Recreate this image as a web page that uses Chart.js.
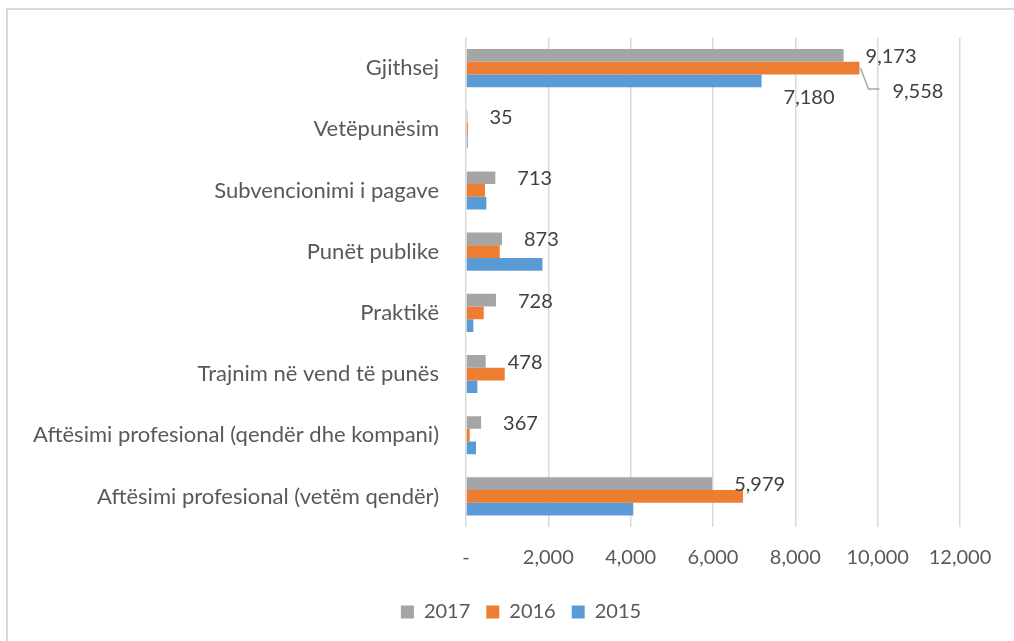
<!DOCTYPE html>
<html>
<head>
<meta charset="utf-8">
<script src="https://cdn.jsdelivr.net/npm/chart.js@4"></script>
<style>
  html, body { margin: 0; padding: 0; background: #fff; overflow: hidden; }
  #frame { position: absolute; left: 6px; top: 8px; width: 1100px; height: 700px;
           border-left: 2px solid #d9d9d9; border-top: 2px solid #d9d9d9; }
  #myChart { position: absolute; left: 0; top: 0; }
</style>
</head>
<body>
<div id="frame"></div>
<canvas id="myChart" width="1014" height="641"></canvas>
<script>
var categories = [
    "Gjithsej",
    "Vetëpunësim",
    "Subvencionimi i pagave",
    "Punët publike",
    "Praktikë",
    "Trajnim në vend të punës",
    "Aftësimi profesional (qendër dhe kompani)",
    "Aftësimi profesional (vetëm qendër)"
];
var values2017 = [9173, 35, 713, 873, 728, 478, 367, 5979];
var values2016 = [9558, 45, 460, 820, 430, 940, 90, 6730];
var values2015 = [7180, 40, 495, 1857, 178, 276, 243, 4063];
var xTicks = [0, 2000, 4000, 6000, 8000, 10000, 12000];

var FONT = "Lato, 'Open Sans', sans-serif";

// labels: every 2017 bar, plus the 2016 and 2015 bars of "Gjithsej"
var dataLabels = {
    id: 'dataLabels',
    afterDatasetsDraw: function (chart) {
        var c = chart.ctx;
        c.save();
        c.font = "20px " + FONT;
        c.fillStyle = "#404040";
        c.textAlign = "left";
        c.textBaseline = "middle";
        var meta0 = chart.getDatasetMeta(0);
        meta0.data.forEach(function (bar, i) {
            c.fillText(values2017[i].toLocaleString('en-US'), bar.x + 22, bar.y + 1);
        });
        // 2016 total, pushed down with a leader line
        var b16 = chart.getDatasetMeta(1).data[0];
        c.strokeStyle = "#a6a6a6";
        c.lineWidth = 1.5;
        c.beginPath();
        c.moveTo(b16.x + 1, b16.y);
        c.lineTo(b16.x + 9, b16.y + 21);
        c.lineTo(b16.x + 20, b16.y + 21);
        c.stroke();
        c.fillText(values2016[0].toLocaleString('en-US'), b16.x + 33, b16.y + 23);
        // 2015 total
        var b15 = chart.getDatasetMeta(2).data[0];
        c.fillText(values2015[0].toLocaleString('en-US'), b15.x + 22, b15.y + 17);
        c.restore();
    }
};

// legend sits centred under the plot, not under the whole canvas
var legendShift = {
    id: 'legendShift',
    afterLayout: function (chart) {
        chart.legend.left += 36;
        chart.legend.right += 36;
    }
};

var ctx = document.getElementById("myChart").getContext('2d');
var myChart = new Chart(ctx, {
    type: 'bar',
    data: {
        labels: categories,
        datasets: [
            { label: "2017", data: values2017, backgroundColor: "#a5a5a5" },
            { label: "2016", data: values2016, backgroundColor: "#ed7d31" },
            { label: "2015", data: values2015, backgroundColor: "#5b9bd5" }
        ]
    },
    options: {
        indexAxis: 'y',
        responsive: false,
        animation: false,
        categoryPercentage: 0.623,
        barPercentage: 1,
        layout: { padding: { left: 10, right: 54, top: 37.5, bottom: 9 } },
        scales: {
            x: {
                min: 0,
                max: 12000,
                afterBuildTicks: function (axis) {
                    axis.ticks = xTicks.map(function (v) { return { value: v }; });
                },
                afterFit: function (axis) { axis.height = 59; },
                grid: { color: "#d9d9d9", lineWidth: 1.5, drawTicks: false },
                border: { display: false },
                ticks: {
                    padding: 19,
                    color: "#595959",
                    font: { family: FONT, size: 20 },
                    maxRotation: 0,
                    callback: function (v) { return v === 0 ? "-" : v.toLocaleString('en-US'); }
                }
            },
            y: {
                afterFit: function (axis) { axis.width = 456; },
                grid: { display: false },
                border: { display: false },
                ticks: {
                    padding: 19,
                    color: "#595959",
                    font: { family: FONT, size: 22 }
                }
            }
        },
        plugins: {
            legend: {
                position: 'bottom',
                labels: {
                    boxWidth: 13,
                    boxHeight: 13,
                    padding: 16,
                    color: "#595959",
                    font: { family: FONT, size: 20 }
                }
            },
            tooltip: { enabled: false }
        }
    },
    plugins: [dataLabels, legendShift]
});
</script>
</body>
</html>
